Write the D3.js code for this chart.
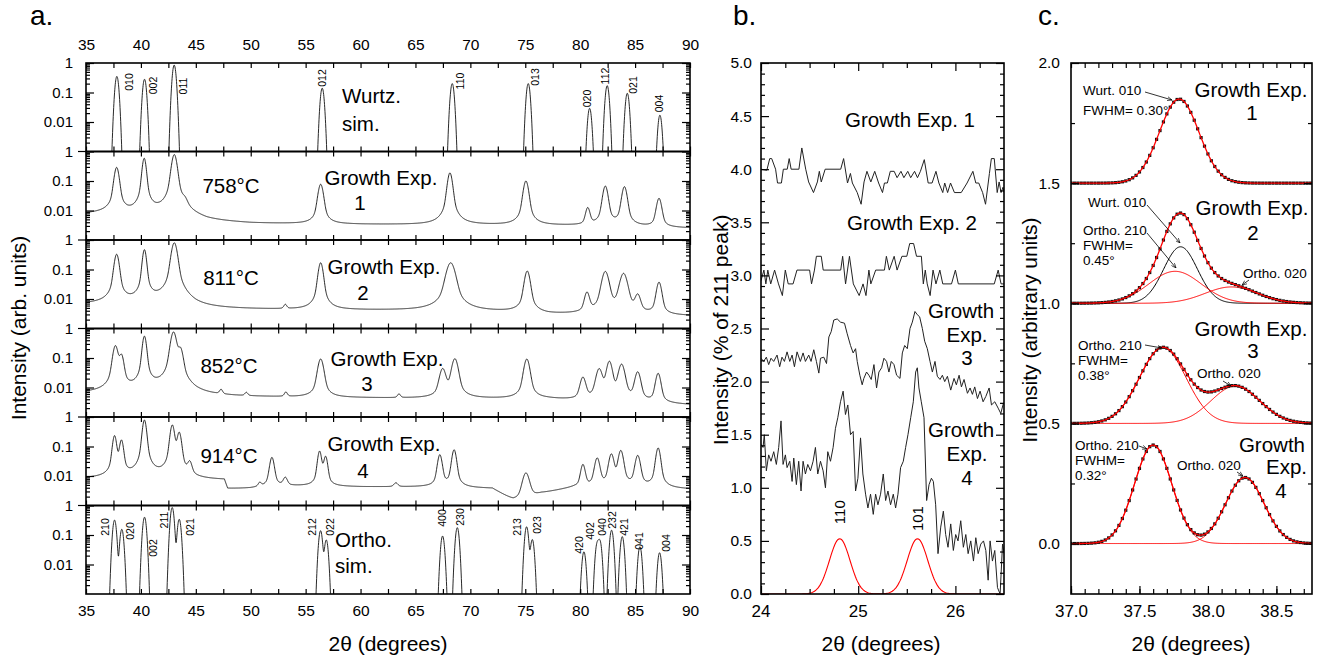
<!DOCTYPE html>
<html>
<head>
<meta charset="utf-8">
<script src="https://cdn.jsdelivr.net/npm/d3@7"></script>
<style>
  body { margin: 0; background: #fff; }
  svg text { font-family: 'Liberation Sans', Arial, sans-serif; fill: #000; }
</style>
</head>
<body>
<svg id="fig" width="1325" height="662"></svg>
<script>
// ---------- panel a: simulated patterns, [2theta, rel. intensity]
const wurtzPeaks = [[37.81,0.35],[40.33,0.28],[43.03,0.85],[56.51,0.14],[68.35,0.20],[75.27,0.20],[80.86,0.029],[82.46,0.17],[84.29,0.094],[87.26,0.017]];
const wurtzHkl = ["010","002","011","012","110","013","020","112","021","004"];
const orthoPeaks = [[37.60,0.32],[38.26,0.156],[40.33,0.40],[42.85,0.85],[43.49,0.34],[56.36,0.14],[56.88,0.068],[67.47,0.092],[68.81,0.177],[75.12,0.19],[75.64,0.07],[80.34,0.027],[81.55,0.05],[81.80,0.06],[82.86,0.145],[83.83,0.088],[85.44,0.04],[87.23,0.025]];
const orthoHkl = ["210","020","002","211","021","212","022","400","230","213","023","420","402","040","232","421","041","004"];

// experimental patterns: peaks [2theta, height, fwhm], background [2theta, level]
const exp1Peaks = [[37.79,0.28,0.42],[40.30,0.58,0.34],[43.04,0.78,0.46],[44.0,0.008,0.5],[56.37,0.074,0.45],[68.14,0.185,0.42],[75.06,0.097,0.45],[80.69,0.009,0.4],[82.29,0.064,0.45],[84.03,0.061,0.45],[87.18,0.023,0.45]];
const exp1Bg = [[35,0.0075],[37,0.008],[38.8,0.007],[41.6,0.007],[44.5,0.005],[46,0.004],[50,0.0035],[60,0.0033],[70,0.0032],[80,0.003],[90,0.0025]];
const exp2Peaks = [[37.79,0.32,0.42],[40.32,0.46,0.34],[43.04,0.8,0.5],[53.15,0.0018,0.3],[56.37,0.165,0.42],[68.21,0.165,0.75],[75.18,0.085,0.48],[80.62,0.013,0.45],[82.29,0.082,0.6],[83.95,0.07,0.65],[85.24,0.01,0.5],[87.18,0.034,0.45]];
const exp2Bg = [[35,0.0066],[38.8,0.0072],[41.6,0.0075],[45,0.0045],[55,0.0042],[66,0.004],[74,0.0035],[77,0.0029],[80,0.0029],[90,0.0026]];
const exp3Peaks = [[37.68,0.25,0.45],[38.23,0.11,0.4],[40.32,0.54,0.35],[42.97,0.75,0.5],[43.6,0.18,0.45],[47.3,0.0025,0.3],[49.6,0.0015,0.3],[53.2,0.002,0.3],[56.37,0.088,0.5],[63.5,0.0015,0.3],[67.48,0.038,0.55],[68.59,0.09,0.55],[75.14,0.088,0.5],[80.25,0.018,0.5],[81.73,0.038,0.55],[82.66,0.072,0.5],[83.77,0.057,0.55],[85.24,0.03,0.5],[87.1,0.027,0.45]];
const exp3Bg = [[35,0.0063],[38.8,0.007],[41.5,0.008],[45,0.0048],[55,0.0045],[66,0.0042],[77,0.004],[80,0.0035],[90,0.0025]];
const exp4Peaks = [[37.6,0.22,0.35],[38.23,0.15,0.35],[40.32,0.78,0.35],[42.86,0.52,0.38],[43.49,0.28,0.38],[44.45,0.018,0.4],[50.82,0.0015,0.3],[51.93,0.038,0.4],[53.15,0.004,0.4],[56.27,0.064,0.35],[56.82,0.04,0.35],[63.22,0.0015,0.4],[67.22,0.048,0.4],[68.52,0.073,0.4],[75.06,0.011,0.6],[80.25,0.02,0.4],[81.55,0.036,0.45],[82.84,0.05,0.45],[83.7,0.068,0.45],[85.24,0.045,0.45],[87.1,0.085,0.4]];
const exp4Bg = [[35,0.0081],[37,0.0085],[41.5,0.009],[44.5,0.0072],[47.6,0.0071],[47.9,0.0031],[50,0.0035],[52,0.0045],[60,0.0042],[66,0.0042],[72,0.0037],[73.9,0.0014],[74.6,0.0014],[76.5,0.0025],[79.5,0.004],[85,0.004],[90,0.0035]];
const growthTemps = ["758°C", "811°C", "852°C", "914°C"];

// ---------- panel b: intensity (% of 211 peak)
const bExp1 = [[24.00,4.00],[24.06,3.99],[24.09,4.10],[24.11,4.10],[24.15,4.00],[24.17,3.87],[24.21,3.87],[24.23,4.00],[24.27,4.00],[24.29,4.10],[24.31,4.00],[24.39,4.00],[24.42,4.20],[24.46,4.00],[24.49,3.88],[24.54,3.78],[24.58,3.88],[24.60,3.98],[24.62,3.88],[24.66,4.00],[24.82,4.00],[24.85,4.10],[24.89,3.87],[24.92,3.96],[24.94,3.87],[24.99,3.78],[25.03,3.67],[25.06,3.88],[25.09,3.98],[25.13,3.88],[25.17,3.98],[25.21,3.87],[25.25,3.78],[25.27,3.87],[25.30,3.87],[25.33,3.98],[25.37,3.98],[25.40,3.92],[25.44,3.98],[25.47,3.92],[25.51,3.98],[25.54,3.92],[25.58,3.98],[25.61,3.92],[25.64,3.98],[25.68,4.09],[25.72,3.87],[25.76,3.87],[25.80,3.98],[25.83,3.87],[25.87,3.78],[25.89,3.87],[25.92,3.78],[25.95,3.87],[25.99,3.78],[26.06,3.78],[26.12,3.87],[26.18,3.98],[26.21,3.87],[26.24,3.87],[26.28,3.78],[26.31,3.67],[26.35,3.96],[26.37,4.10],[26.40,4.10],[26.43,3.78],[26.45,3.88],[26.47,3.78],[26.49,3.83],[26.50,3.78]];
const bExp2 = [[24.00,2.95],[24.03,3.05],[24.05,2.92],[24.07,3.05],[24.10,2.92],[24.14,3.05],[24.18,2.92],[24.22,2.81],[24.25,3.05],[24.28,2.92],[24.33,2.92],[24.37,3.05],[24.50,3.05],[24.52,2.92],[24.55,3.05],[24.57,3.18],[24.62,3.18],[24.64,3.05],[24.82,3.05],[24.84,3.18],[24.87,2.92],[24.91,3.18],[24.95,2.92],[25.01,2.81],[25.05,2.92],[25.08,2.81],[25.11,3.05],[25.13,2.92],[25.18,3.05],[25.27,3.05],[25.29,3.18],[25.32,3.05],[25.37,3.18],[25.40,3.05],[25.45,3.18],[25.50,3.18],[25.53,3.30],[25.57,3.30],[25.60,3.18],[25.65,3.18],[25.67,2.92],[25.69,3.05],[25.71,2.92],[25.74,2.81],[25.77,3.05],[25.80,2.92],[25.84,3.05],[25.87,2.92],[25.96,2.92],[26.00,3.05],[26.03,2.92],[26.40,2.92],[26.44,3.05],[26.47,2.92],[26.50,2.92]];
const bExp3 = [[24.000,2.22],[24.027,2.19],[24.055,2.23],[24.079,2.16],[24.103,2.22],[24.131,2.19],[24.165,2.25],[24.192,2.14],[24.216,2.23],[24.241,2.19],[24.268,2.28],[24.296,2.19],[24.320,2.25],[24.344,2.14],[24.371,2.28],[24.405,2.19],[24.433,2.27],[24.457,2.19],[24.491,2.25],[24.515,2.19],[24.543,2.30],[24.570,2.19],[24.595,2.08],[24.612,2.22],[24.646,2.23],[24.674,2.17],[24.698,2.42],[24.722,2.47],[24.749,2.58],[24.784,2.59],[24.818,2.56],[24.859,2.55],[24.887,2.45],[24.921,2.34],[24.948,2.27],[24.973,2.31],[24.990,2.19],[25.017,2.06],[25.041,1.97],[25.058,2.03],[25.086,2.09],[25.110,2.06],[25.134,2.02],[25.162,2.16],[25.189,1.94],[25.213,2.09],[25.241,2.13],[25.265,2.22],[25.292,2.19],[25.316,2.09],[25.340,2.19],[25.368,2.16],[25.395,2.06],[25.430,2.03],[25.454,2.27],[25.478,2.34],[25.505,2.31],[25.533,2.50],[25.557,2.56],[25.584,2.66],[25.608,2.63],[25.632,2.61],[25.660,2.50],[25.684,2.38],[25.711,2.31],[25.739,2.19],[25.763,2.09],[25.790,2.19],[25.814,2.05],[25.842,2.02],[25.866,2.06],[25.890,2.00],[25.918,2.05],[25.952,1.92],[25.986,2.03],[26.010,1.97],[26.038,2.06],[26.062,1.95],[26.089,2.02],[26.124,1.89],[26.151,1.94],[26.175,1.88],[26.199,1.95],[26.227,1.84],[26.254,1.91],[26.285,1.81],[26.313,1.86],[26.347,1.94],[26.371,1.78],[26.405,1.81],[26.440,1.75],[26.467,1.70],[26.495,1.80]];
const bExp4 = [[24.000,1.41],[24.021,1.38],[24.034,1.50],[24.055,1.16],[24.079,1.31],[24.103,1.25],[24.131,1.34],[24.158,1.22],[24.182,1.38],[24.206,1.63],[24.227,1.22],[24.251,1.31],[24.268,1.19],[24.296,1.25],[24.320,1.06],[24.337,1.28],[24.364,1.03],[24.388,1.25],[24.412,0.97],[24.433,1.25],[24.457,1.13],[24.481,1.22],[24.509,1.16],[24.536,1.25],[24.560,1.38],[24.584,1.13],[24.612,1.25],[24.639,1.16],[24.663,1.00],[24.687,1.34],[24.715,1.25],[24.742,1.38],[24.766,1.56],[24.790,1.66],[24.818,1.81],[24.845,1.91],[24.869,1.69],[24.893,1.78],[24.921,1.50],[24.948,1.53],[24.973,0.97],[24.997,1.09],[25.024,1.47],[25.048,1.13],[25.076,0.94],[25.100,0.81],[25.127,0.94],[25.155,0.75],[25.179,0.94],[25.203,0.84],[25.230,0.94],[25.258,1.13],[25.282,0.88],[25.306,0.97],[25.333,0.84],[25.361,0.94],[25.385,0.81],[25.409,0.94],[25.436,1.19],[25.464,1.25],[25.488,1.38],[25.512,1.50],[25.540,1.66],[25.567,1.81],[25.591,2.09],[25.608,2.13],[25.625,1.94],[25.649,1.81],[25.677,1.66],[25.704,0.88],[25.729,1.03],[25.753,1.09],[25.773,1.06],[25.797,0.84],[25.821,0.38],[25.849,0.63],[25.876,0.78],[25.900,0.56],[25.924,0.44],[25.952,0.66],[25.979,0.41],[26.003,0.56],[26.027,0.50],[26.055,0.69],[26.082,0.44],[26.107,0.56],[26.131,0.38],[26.158,0.50],[26.186,0.31],[26.210,0.53],[26.234,0.38],[26.261,0.47],[26.289,0.50],[26.313,0.41],[26.337,0.13],[26.357,0.50],[26.381,0.31],[26.405,0.41],[26.433,0.06],[26.460,0.00],[26.485,0.47],[26.502,0.38]];
const bSimPeaks = [[24.81,0.52,0.25],[25.61,0.52,0.25]];
const bSimHkl = ["110","101"];
const bMajorX = [24, 25, 26];

// ---------- panel c: fitted components [2theta, amplitude, fwhm]
const cOffsets = [1.5, 1.0, 0.5, 0.0];
const c1Peaks = [[37.79,0.35,0.34]];
const c2Peaks = [[37.80,0.235,0.29],[37.76,0.133,0.45],[38.17,0.068,0.45]];
const c3Peaks = [[37.67,0.315,0.40],[38.20,0.155,0.42]];
const c4Peaks = [[37.60,0.41,0.32],[38.27,0.275,0.33]];
const cCompColors = [[], ["#000","#f00","#f00"], ["#f00","#f00"], ["#f00","#f00"]];

const FONT = "'Liberation Sans', Arial, sans-serif";
const svg = d3.select("#fig");
const defs = svg.append("defs");
defs.append("marker").attr("id", "arr").attr("viewBox", "0 0 6 6").attr("refX", 6).attr("refY", 3)
  .attr("markerWidth", 6).attr("markerHeight", 6).attr("orient", "auto")
  .append("path").attr("d", "M0,0.5L6,3L0,5.5").attr("fill", "none").attr("stroke", "#000").attr("stroke-width", 0.8);

const pv = (x, c, h, w, eta) => {
  const t = (x - c) / w;
  return h * (eta / (1 + 4 * t * t) + (1 - eta) * Math.exp(-4 * Math.LN2 * t * t));
};

// shared axis cleanup: no domain line, no empty tick labels
function styleAxis(g, size) {
  g.attr("font-family", FONT).attr("font-size", size);
  g.select(".domain").remove();
  g.selectAll(".tick text").filter(function() { return this.textContent === ""; }).remove();
  g.selectAll(".tick line").attr("stroke", "#000").attr("stroke-width", 1.2);
}

function frame(x0, y0, x1, y1) {
  svg.append("rect").attr("x", x0).attr("y", y0).attr("width", x1 - x0).attr("height", y1 - y0)
    .attr("fill", "none").attr("stroke", "#000").attr("stroke-width", 1.6);
}

function addClip(id, x0, y0, x1, y1) {
  defs.append("clipPath").attr("id", id).append("rect")
    .attr("x", x0).attr("y", y0).attr("width", x1 - x0).attr("height", y1 - y0);
}

function txt(x, y, s, size, anchor) {
  return svg.append("text").attr("x", x).attr("y", y).attr("font-size", size)
    .attr("text-anchor", anchor || "start").text(s);
}

// ================= panel a =================
const aX = d3.scaleLinear().domain([35, 90]).range([86, 690]);
const aTop = 63, aBottom = 594, rowH = (aBottom - aTop) / 6;
const grid = d3.range(35, 90.0001, 0.02);
const rows = [
  {peaks: wurtzPeaks, sim: true},
  {peaks: exp1Peaks, bg: exp1Bg},
  {peaks: exp2Peaks, bg: exp2Bg},
  {peaks: exp3Peaks, bg: exp3Bg},
  {peaks: exp4Peaks, bg: exp4Bg},
  {peaks: orthoPeaks, sim: true}
];
const minorLog = [];
[-3, -2, -1].forEach(e => d3.range(2, 10).forEach(k => minorLog.push(k * Math.pow(10, e))));
const aTicks = d3.range(35, 90.01, 2.5);

rows.forEach((r, i) => {
  const top = aTop + i * rowH, bot = top + rowH;
  const y = d3.scaleLog().domain([1e-3, 1]).range([bot, top]);
  addClip("clipA" + i, aX(35), top, aX(90), bot);

  let pts;
  if (r.sim) {
    pts = grid.map(x => [x, Math.max(1e-4, d3.sum(r.peaks, p => pv(x, p[0], p[1], 0.31, 0)))]);
  } else {
    const bg = d3.scaleLinear().domain(r.bg.map(d => d[0])).range(r.bg.map(d => Math.log(d[1])));
    pts = grid.map(x => [x, Math.exp(bg(x)) + d3.sum(r.peaks, p => pv(x, p[0], p[1], p[2], 0.4))]);
  }
  svg.append("path").datum(pts).attr("clip-path", `url(#clipA${i})`)
    .attr("fill", "none").attr("stroke", "#111").attr("stroke-width", 0.9)
    .attr("d", d3.line().x(d => aX(d[0])).y(d => y(d[1])));

  // left / right log axes
  svg.append("g").attr("transform", `translate(${aX(35)},0)`)
    .call(d3.axisLeft(y).tickValues([1, 0.1, 0.01]).tickSize(-8).tickPadding(13).tickFormat(d => String(d)))
    .call(g => styleAxis(g, 15));
  svg.append("g").attr("transform", `translate(${aX(35)},0)`)
    .call(d3.axisLeft(y).tickValues(minorLog).tickSize(-4).tickFormat(""))
    .call(g => styleAxis(g, 15));
  svg.append("g").attr("transform", `translate(${aX(90)},0)`)
    .call(d3.axisRight(y).tickValues([1, 0.1, 0.01]).tickSize(-8).tickFormat(""))
    .call(g => styleAxis(g, 15));
  svg.append("g").attr("transform", `translate(${aX(90)},0)`)
    .call(d3.axisRight(y).tickValues(minorLog).tickSize(-4).tickFormat(""))
    .call(g => styleAxis(g, 15));
  // top / bottom ticks of each strip
  svg.append("g").attr("transform", `translate(0,${top})`)
    .call(d3.axisTop(aX).tickValues(aTicks).tickSize(-5).tickPadding(13).tickFormat(i === 0 ? (d => d % 5 === 0 ? d : "") : ""))
    .call(g => styleAxis(g, 15.5));
  svg.append("g").attr("transform", `translate(0,${bot})`)
    .call(d3.axisBottom(aX).tickValues(aTicks).tickSize(-5).tickPadding(11).tickFormat(i === 5 ? (d => d % 5 === 0 ? d : "") : ""))
    .call(g => styleAxis(g, 15.5));
  if (i > 0) {
    svg.append("line").attr("x1", aX(35) - 8).attr("x2", aX(35)).attr("y1", top).attr("y2", top)
      .attr("stroke", "#000").attr("stroke-width", 1.2);
  }
  frame(aX(35), top, aX(90), bot);
});

// hkl labels of the simulated strips
const wurtzLabelPos = [[128.5,82],[153,85.5],[183,86],[322,78],[460,81],[535,77],[587,98.5],[605,76],[633,85],[659,103.5]];
const orthoLabelPos = [[105,527],[130,531],[153,548],[164,520],[190,527],[312,527],[330,527],[442,518],[460,517],[517,527],[537,525],[579,545],[590,531],[602,527],[612,520],[624,527],[639,541],[666,543]];
function hklLabels(names, pos) {
  svg.append("g").selectAll("text").data(names).join("text")
    .attr("transform", (d, i) => `translate(${pos[i][0]},${pos[i][1]}) rotate(-90)`)
    .attr("text-anchor", "middle").attr("dominant-baseline", "central")
    .attr("font-size", 10.5).text(d => d);
}
hklLabels(wurtzHkl, wurtzLabelPos);
hklLabels(orthoHkl, orthoLabelPos);

txt(342, 103, "Wurtz.", 20.5); txt(342, 131, "sim.", 20.5);
txt(335, 547, "Ortho.", 20.5); txt(335, 573, "sim.", 20.5);
const aRowText = [
  {t: [231, 193], g: [381, 185], n: [360, 210]},
  {t: [231, 285], g: [384, 274], n: [363, 300]},
  {t: [229, 373], g: [387, 366], n: [367, 391]},
  {t: [229, 463], g: [384, 451], n: [363, 478]}
];
aRowText.forEach((p, i) => {
  txt(p.t[0], p.t[1], growthTemps[i], 20.5, "middle");
  txt(p.g[0], p.g[1], "Growth Exp.", 20.5, "middle");
  txt(p.n[0], p.n[1], String(i + 1), 20.5, "middle");
});
txt(30, 25, "a.", 28);
svg.append("text").attr("transform", "translate(26,328) rotate(-90)").attr("text-anchor", "middle")
  .attr("font-size", 21).text("Intensity (arb. units)");
txt(388, 651, "2θ (degrees)", 21, "middle");

// ================= panel b =================
const bX = d3.scaleLinear().domain([24, 26.5]).range([761, 1004]);
const bY = d3.scaleLinear().domain([0, 5]).range([594, 63]);
addClip("clipB", 761, 63, 1004, 594);
const bLine = d3.line().x(d => bX(d[0])).y(d => bY(d[1]));
[bExp1, bExp2, bExp3, bExp4].forEach(s => {
  svg.append("path").datum(s).attr("clip-path", "url(#clipB)").attr("fill", "none")
    .attr("stroke", "#222").attr("stroke-width", 1).attr("d", bLine);
});
const bGrid = d3.range(24, 26.5001, 0.01);
svg.append("path").datum(bGrid.map(x => [x, d3.sum(bSimPeaks, p => pv(x, p[0], p[1], p[2], 0))]))
  .attr("clip-path", "url(#clipB)").attr("fill", "none").attr("stroke", "#f00").attr("stroke-width", 1.1).attr("d", bLine);
svg.append("g").selectAll("text").data(bSimPeaks).join("text")
  .attr("transform", (d, i) => `translate(${bX(d[0])},${bY(d[1] + (i === 0 ? 0.25 : 0.19))}) rotate(-90)`)
  .attr("text-anchor", "middle").attr("dominant-baseline", "central").attr("font-size", 15)
  .text((d, i) => bSimHkl[i]);

const notHalf = v => Math.abs(v * 2 - Math.round(v * 2)) > 1e-6;
const bMinorY = d3.range(0, 5.001, 0.1).filter(notHalf);
svg.append("g").attr("transform", "translate(761,0)")
  .call(d3.axisLeft(bY).tickValues(d3.range(0, 5.01, 0.5)).tickFormat(d3.format(".1f")).tickSize(-8).tickPadding(9))
  .call(g => styleAxis(g, 15.5));
svg.append("g").attr("transform", "translate(761,0)")
  .call(d3.axisLeft(bY).tickValues(bMinorY).tickSize(-4).tickFormat("")).call(g => styleAxis(g, 15));
svg.append("g").attr("transform", "translate(1004,0)")
  .call(d3.axisRight(bY).tickValues(d3.range(0, 5.01, 0.5)).tickSize(-8).tickFormat("")).call(g => styleAxis(g, 15));
svg.append("g").attr("transform", "translate(1004,0)")
  .call(d3.axisRight(bY).tickValues(bMinorY).tickSize(-4).tickFormat("")).call(g => styleAxis(g, 15));
const bMinorX = [24.25, 24.5, 24.75, 25.25, 25.5, 25.75, 26.25];
svg.append("g").attr("transform", "translate(0,594)")
  .call(d3.axisBottom(bX).tickValues(bMajorX).tickFormat("").tickSize(-8)).call(g => styleAxis(g, 17));
svg.append("g").attr("transform", "translate(0,594)")
  .call(d3.axisBottom(bX).tickValues(bMinorX).tickSize(-5).tickFormat("")).call(g => styleAxis(g, 17));
svg.append("g").attr("transform", "translate(0,63)")
  .call(d3.axisTop(bX).tickValues(bMajorX).tickSize(-8).tickFormat("")).call(g => styleAxis(g, 17));
svg.append("g").attr("transform", "translate(0,63)")
  .call(d3.axisTop(bX).tickValues(bMinorX).tickSize(-5).tickFormat("")).call(g => styleAxis(g, 17));
frame(761, 63, 1004, 594);
// bottom labels of panel b, each number split in two tspans
bMajorX.forEach(v => {
  const s = String(v);
  const t = svg.append("text").attr("transform", `translate(${bX(v)},617)`)
    .attr("text-anchor", "middle").attr("font-size", 17);
  t.append("tspan").text(s.slice(0, 1));
  t.append("tspan").text(s.slice(1));
});

txt(910, 127, "Growth Exp. 1", 20.5, "middle");
txt(912, 230, "Growth Exp. 2", 20.5, "middle");
txt(961, 318, "Growth", 20.5, "middle"); txt(967, 342, "Exp.", 20.5, "middle"); txt(967, 365, "3", 20.5, "middle");
txt(961, 437, "Growth", 20.5, "middle"); txt(967, 461, "Exp.", 20.5, "middle"); txt(967, 485, "4", 20.5, "middle");
txt(733, 25, "b.", 28);
svg.append("text").attr("transform", "translate(728,330) rotate(-90)").attr("text-anchor", "middle")
  .attr("font-size", 21).text("Intensity (% of 211 peak)");
txt(881, 651, "2θ (degrees)", 21, "middle");

// ================= panel c =================
const cX = d3.scaleLinear().domain([37, 38.76]).range([1071, 1312]);
const cY = d3.scaleLinear().domain([-0.21, 2.0]).range([594, 63]);
addClip("clipC", 1071, 63, 1312, 594);
const cGrid = d3.range(37, 38.7601, 0.005);
const cDotX = d3.range(37, 38.7601, 0.025);
const cLine = d3.line().x(d => cX(d[0])).y(d => cY(d[1]));
const cAll = [c1Peaks, c2Peaks, c3Peaks, c4Peaks];
cAll.forEach((peaks, k) => {
  const off = cOffsets[k];
  const total = x => off + d3.sum(peaks, p => pv(x, p[0], p[1], p[2], 0));
  cCompColors[k].forEach((col, j) => {
    const p = peaks[j];
    svg.append("path").datum(cGrid.map(x => [x, off + pv(x, p[0], p[1], p[2], 0)]))
      .attr("clip-path", "url(#clipC)").attr("fill", "none").attr("stroke", col).attr("stroke-width", 1).attr("d", cLine);
  });
  svg.append("g").attr("clip-path", "url(#clipC)").selectAll("rect").data(cDotX).join("rect")
    .attr("x", x => cX(x) - 1.6).attr("y", x => cY(total(x)) - 1.6).attr("width", 3.2).attr("height", 3.2).attr("fill", "#111");
  svg.append("path").datum(cGrid.map(x => [x, total(x)]))
    .attr("clip-path", "url(#clipC)").attr("fill", "none").attr("stroke", "#f00").attr("stroke-width", 1.3).attr("d", cLine);
});

svg.append("g").attr("transform", "translate(1071,0)")
  .call(d3.axisLeft(cY).tickValues([0, 0.5, 1, 1.5, 2]).tickFormat(d3.format(".1f")).tickSize(-8).tickPadding(11))
  .call(g => styleAxis(g, 15.5));
svg.append("g").attr("transform", "translate(1071,0)")
  .call(d3.axisLeft(cY).tickValues([0.25, 0.75, 1.25, 1.75]).tickSize(-4).tickFormat("")).call(g => styleAxis(g, 15));
svg.append("g").attr("transform", "translate(1312,0)")
  .call(d3.axisRight(cY).tickValues([0, 0.5, 1, 1.5, 2]).tickSize(-8).tickFormat("")).call(g => styleAxis(g, 15));
svg.append("g").attr("transform", "translate(1312,0)")
  .call(d3.axisRight(cY).tickValues([0.25, 0.75, 1.25, 1.75]).tickSize(-4).tickFormat("")).call(g => styleAxis(g, 15));
const cMinorX = d3.range(37, 38.76, 0.1);
svg.append("g").attr("transform", "translate(0,594)")
  .call(d3.axisBottom(cX).tickValues([37, 37.5, 38, 38.5]).tickFormat(d3.format(".1f")).tickSize(-8).tickPadding(11))
  .call(g => styleAxis(g, 17));
svg.append("g").attr("transform", "translate(0,594)")
  .call(d3.axisBottom(cX).tickValues(cMinorX).tickSize(-5).tickFormat("")).call(g => styleAxis(g, 17));
svg.append("g").attr("transform", "translate(0,63)")
  .call(d3.axisTop(cX).tickValues(cMinorX).tickSize(-5).tickFormat("")).call(g => styleAxis(g, 17));
frame(1071, 63, 1312, 594);

txt(1251, 97, "Growth Exp.", 20.5, "middle"); txt(1252, 120, "1", 20.5, "middle");
txt(1252, 215, "Growth Exp.", 20.5, "middle"); txt(1253, 240, "2", 20.5, "middle");
txt(1251, 336, "Growth Exp.", 20.5, "middle"); txt(1253, 358, "3", 20.5, "middle");
txt(1305, 452, "Growth", 20.5, "end"); txt(1307, 474, "Exp.", 20.5, "end"); txt(1281, 498, "4", 20.5, "middle");

const cNotes = [
  ["Wurt. 010", 1083, 95], ["FWHM= 0.30°", 1083, 115],
  ["Wurt. 010", 1088, 207], ["Ortho. 210", 1083, 235], ["FWHM=", 1083, 250], ["0.45°", 1083, 265], ["Ortho. 020", 1243, 278],
  ["Ortho. 210", 1078, 350], ["FWHM=", 1078, 365], ["0.38°", 1078, 380], ["Ortho. 020", 1197, 378],
  ["Ortho. 210", 1075, 450], ["FWHM=", 1075, 465], ["0.32°", 1075, 480], ["Ortho. 020", 1177, 470]
];
cNotes.forEach(n => txt(n[1], n[2], n[0], 13.5));
const cArrows = [[1145,92,1172,100],[1147,205,1180,243],[1147,233,1176,268],[1249,280,1242,285],[1145,345,1162,348],[1223,381,1231,386],[1139,446,1147,449],[1237,472,1243,476]];
svg.append("g").selectAll("line").data(cArrows).join("line")
  .attr("x1", d => d[0]).attr("y1", d => d[1]).attr("x2", d => d[2]).attr("y2", d => d[3])
  .attr("stroke", "#000").attr("stroke-width", 0.8).attr("marker-end", "url(#arr)");

txt(1038, 25, "c.", 28);
svg.append("text").attr("transform", "translate(1037,330) rotate(-90)").attr("text-anchor", "middle")
  .attr("font-size", 21).text("Intensity (arbitrary units)");
txt(1191, 651, "2θ (degrees)", 21, "middle");
</script>
</body>
</html>
